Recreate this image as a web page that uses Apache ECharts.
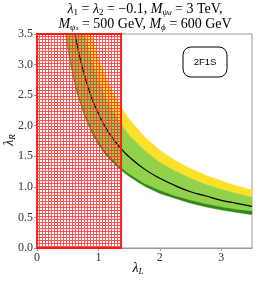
<!DOCTYPE html>
<html>
<head>
<meta charset="utf-8">
<script src="https://cdn.jsdelivr.net/npm/echarts@6/dist/echarts.min.js"></script>
<style>html,body{margin:0;padding:0;background:#fff}#c{width:258px;height:282px}</style>
</head>
<body>
<div id="c"></div>
<script>
// λ_L sample points
const lambdaL = [0.40,0.45,0.50,0.55,0.60,0.65,0.70,0.80,0.90,1.00,1.10,1.20,1.37,1.50,1.75,2.00,2.25,2.50,2.75,3.00,3.25,3.50];
// central curve λ_R
const central = [5.39,4.80,4.32,3.94,3.61,3.34,3.11,2.73,2.43,2.20,2.00,1.84,1.62,1.49,1.29,1.14,1.02,0.92,0.85,0.78,0.73,0.68];
// upper edge of yellow band
const upper2 = [7.69,6.84,6.17,5.61,5.15,4.76,4.43,3.88,3.46,3.12,2.85,2.62,2.30,2.11,1.82,1.60,1.43,1.30,1.19,1.10,1.02,0.95];
// upper edge of light green band
const upper1 = [6.76,6.02,5.42,4.94,4.53,4.19,3.89,3.41,3.04,2.74,2.50,2.30,2.02,1.85,1.60,1.40,1.26,1.14,1.04,0.96,0.89,0.83];
// lower edge of light green band
const lower1 = [4.14,3.70,3.34,3.05,2.81,2.60,2.43,2.14,1.92,1.74,1.59,1.47,1.31,1.21,1.05,0.94,0.85,0.78,0.72,0.67,0.63,0.60];
// lower edge of dark green band
const lower2 = [4.05,3.62,3.27,2.98,2.75,2.54,2.38,2.09,1.87,1.69,1.55,1.43,1.27,1.17,1.01,0.89,0.81,0.73,0.67,0.62,0.58,0.545];
// excluded region
const excludedLMax = 1.37;
const axisMax = 3.5;
const xTicks = [0,1,2,3];
const yTicks = [0.0,0.5,1.0,1.5,2.0,2.5,3.0,3.5];
const titleLine1 = ['λ','1',' = ','λ','2',' = −0.1, ','M','ψ','d',' = 3 TeV,'];
const titleLine2 = ['M','ψ','s',' = 500 GeV, ','M','ϕ',' = 600 GeV'];
const boxLabel = '2F1S';

const pat = document.createElement('canvas');
pat.width = 3; pat.height = 3;
const pc = pat.getContext('2d');
pc.fillStyle = 'rgba(255,45,45,0.82)';
pc.fillRect(0,0,3,1);
pc.fillRect(0,1,1,2);

const pairs = arr => lambdaL.map((x,i)=>[x,arr[i]]);

function bandSeries(name, top, bottom, color){
  return {
    type:'custom', name:name, clip:true, silent:true, z:2,
    data:[0],
    renderItem:function(params, api){
      const pts = [];
      for (let i=0;i<lambdaL.length;i++) pts.push(api.coord([lambdaL[i], top[i]]));
      for (let i=lambdaL.length-1;i>=0;i--) pts.push(api.coord([lambdaL[i], bottom[i]]));
      return {type:'polygon', shape:{points:pts, smooth:0}, style:{fill:color, stroke:color, lineWidth:0.3}};
    }
  };
}

const serif = 'Liberation Serif';
const rich = {
  n:{fontFamily:serif,fontSize:14,lineHeight:16,color:'#222'},
  i:{fontFamily:serif,fontSize:14,lineHeight:16,fontStyle:'italic',color:'#222'},
  s:{fontFamily:serif,fontSize:9,lineHeight:8,verticalAlign:'bottom',color:'#222'},
  si:{fontFamily:serif,fontSize:9,lineHeight:8,verticalAlign:'bottom',fontStyle:'italic',color:'#222'},
  ss:{fontFamily:serif,fontSize:7,lineHeight:4,verticalAlign:'bottom',fontStyle:'italic',color:'#222'}
};
const line1 = `{i|${titleLine1[0]}}{s|${titleLine1[1]}}{n|${titleLine1[2]}}{i|${titleLine1[3]}}{s|${titleLine1[4]}}{n|${titleLine1[5]}}{i|${titleLine1[6]}}{si|${titleLine1[7]}}{ss|${titleLine1[8]}}{n|${titleLine1[9]}}`;
const line2 = `{i|${titleLine2[0]}}{si|${titleLine2[1]}}{ss|${titleLine2[2]}}{n|${titleLine2[3]}}{i|${titleLine2[4]}}{si|${titleLine2[5]}}{n|${titleLine2[6]}}`;

const chart = echarts.init(document.getElementById('c'), null, {renderer:'canvas'});
chart.setOption({
  animation:false,
  grid:{left:37, right:6, top:34, bottom:34, show:true, borderColor:'#999', borderWidth:1, backgroundColor:'transparent'},
  xAxis:{type:'value', min:0, max:axisMax, interval:1,
    axisLine:{show:true, lineStyle:{color:'#999'}},
    axisTick:{show:true, length:3, lineStyle:{color:'#999'}},
    splitLine:{show:false},
    axisLabel:{fontFamily:serif, fontSize:12, color:'#333', margin:4, showMaxLabel:false,
      formatter:v=> xTicks.includes(v)? String(v):''}},
  yAxis:{type:'value', min:0, max:axisMax, interval:0.5,
    axisLine:{show:true, lineStyle:{color:'#999'}},
    axisTick:{show:true, length:3, lineStyle:{color:'#999'}},
    splitLine:{show:false},
    axisLabel:{fontFamily:serif, fontSize:12, color:'#333', margin:4,
      formatter:v=> yTicks.includes(v)? v.toFixed(1):''}},
  series:[
    bandSeries('yellow', upper2, upper1, '#FDE129'),
    bandSeries('light', upper1, lower1, '#92D14A'),
    bandSeries('dark', lower1, lower2, '#2E8B13'),
    {type:'line', name:'central', data:pairs(central), showSymbol:false, symbol:'none', smooth:true,
      lineStyle:{color:'#000', width:1.2}, z:3, silent:true,
      markArea:{silent:true, z:5,
        itemStyle:{color:{image:pat, repeat:'repeat'}, borderColor:'#ff1a1a', borderWidth:1.8},
        data:[[{coord:[0,0]},{coord:[excludedLMax,axisMax]}]]}}
  ],
  graphic:[
    {type:'text', x:145, y:9, style:{text:line1, rich:rich, align:'center', verticalAlign:'middle'}},
    {type:'text', x:145, y:24, style:{text:line2, rich:rich, align:'center', verticalAlign:'middle'}},
    {type:'rect', shape:{x:183, y:47, width:44, height:30, r:8}, style:{fill:'#fff', stroke:'#000', lineWidth:1}, z:10},
    {type:'text', x:205, y:62, style:{text:boxLabel, fontFamily:'Liberation Sans', fontSize:9.5, fill:'#000', align:'center', verticalAlign:'middle'}, z:11},
    {type:'text', x:138, y:268, style:{text:'{i|λ}{si|L}', rich:rich, align:'center', verticalAlign:'middle'}},
    {type:'text', x:9, y:140, rotation:Math.PI/2, style:{text:'{i|λ}{si|R}', rich:rich, align:'center', verticalAlign:'middle'}}
  ]
});
</script>
</body>
</html>
